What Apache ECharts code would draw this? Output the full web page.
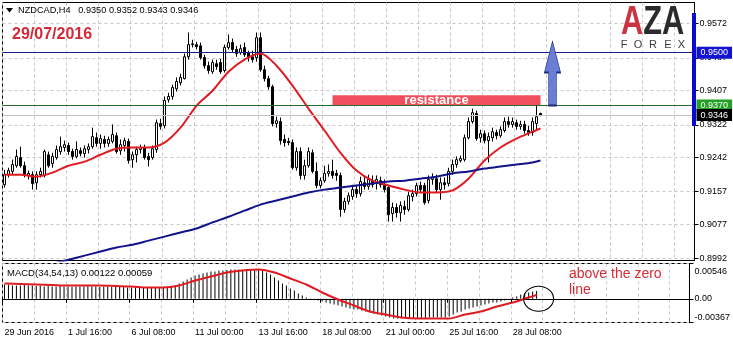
<!DOCTYPE html>
<html><head><meta charset="utf-8">
<script src="https://cdn.jsdelivr.net/npm/echarts@6/dist/echarts.min.js"></script>
<style>html,body{margin:0;padding:0;background:#fff}#c{width:733px;height:344px}</style>
</head><body><div id="c"></div>
<script>
const xTickLabels = ['29 Jun 2016','1 Jul 16:00','6 Jul 08:00','11 Jul 00:00','13 Jul 16:00','18 Jul 08:00','21 Jul 00:00','25 Jul 16:00','28 Jul 08:00'];
const priceTicks = [0.8992,0.9077,0.9157,0.9242,0.9322,0.9407,0.9487,0.9572];
const macdTicks = [-0.00367,0,0.00546];
// [open, close, low, high]
const candles = [
[0.9174,0.9199,0.9167,0.9211],[0.9199,0.9209,0.9192,0.9216],[0.9207,0.9224,0.9199,0.9236],[0.9221,0.9244,0.9216,0.9261],
[0.9241,0.9221,0.9216,0.9268],[0.9221,0.9197,0.9192,0.9231],[0.9197,0.9202,0.9187,0.9209],[0.9199,0.9177,0.9162,0.9207],
[0.9179,0.9199,0.9162,0.9207],[0.9199,0.9207,0.9192,0.9216],[0.9197,0.9256,0.9192,0.9261],[0.9248,0.9221,0.9216,0.9256],
[0.9226,0.9244,0.9216,0.9253],[0.9241,0.9261,0.9236,0.9271],[0.9256,0.9268,0.9248,0.9293],[0.9266,0.9273,0.9256,0.9283],
[0.9271,0.9256,0.9248,0.9278],[0.9256,0.9244,0.9236,0.9263],[0.9244,0.9261,0.9239,0.9281],[0.9258,0.9251,0.9244,0.9266],
[0.9251,0.9263,0.9241,0.9271],[0.9261,0.9268,0.9251,0.9276],[0.9268,0.9293,0.9263,0.9315],[0.9290,0.9276,0.9268,0.9303],
[0.9276,0.9288,0.9263,0.9298],[0.9286,0.9276,0.9266,0.9295],[0.9276,0.9286,0.9268,0.9293],[0.9281,0.9298,0.9276,0.9323],
[0.9295,0.9256,0.9251,0.9303],[0.9258,0.9273,0.9248,0.9286],[0.9271,0.9283,0.9256,0.9290],[0.9281,0.9234,0.9226,0.9288],
[0.9236,0.9248,0.9216,0.9256],[0.9248,0.9261,0.9229,0.9268],[0.9261,0.9266,0.9251,0.9273],[0.9266,0.9241,0.9236,0.9273],
[0.9244,0.9236,0.9219,0.9253],[0.9241,0.9263,0.9236,0.9271],[0.9261,0.9327,0.9253,0.9335],[0.9325,0.9318,0.9310,0.9337],
[0.9320,0.9382,0.9313,0.9392],[0.9384,0.9392,0.9377,0.9401],[0.9392,0.9414,0.9384,0.9421],[0.9411,0.9429,0.9404,0.9439],
[0.9426,0.9439,0.9419,0.9448],[0.9436,0.9490,0.9434,0.9498],[0.9490,0.9520,0.9483,0.9550],[0.9520,0.9522,0.9513,0.9532],
[0.9520,0.9515,0.9508,0.9527],[0.9517,0.9488,0.9483,0.9525],[0.9488,0.9468,0.9461,0.9495],[0.9468,0.9456,0.9448,0.9478],
[0.9453,0.9476,0.9448,0.9483],[0.9473,0.9466,0.9458,0.9483],[0.9476,0.9453,0.9448,0.9485],[0.9456,0.9513,0.9451,0.9520],
[0.9513,0.9525,0.9508,0.9545],[0.9525,0.9508,0.9500,0.9535],[0.9508,0.9498,0.9490,0.9517],[0.9500,0.9510,0.9495,0.9520],
[0.9513,0.9495,0.9490,0.9525],[0.9500,0.9488,0.9478,0.9505],[0.9490,0.9483,0.9476,0.9505],[0.9488,0.9537,0.9478,0.9550],
[0.9537,0.9458,0.9453,0.9550],[0.9458,0.9436,0.9429,0.9468],[0.9436,0.9416,0.9409,0.9443],[0.9416,0.9325,0.9318,0.9421],
[0.9325,0.9332,0.9315,0.9342],[0.9330,0.9283,0.9273,0.9340],[0.9286,0.9278,0.9268,0.9298],[0.9281,0.9278,0.9271,0.9290],
[0.9278,0.9216,0.9211,0.9286],[0.9216,0.9256,0.9209,0.9266],[0.9256,0.9197,0.9187,0.9266],[0.9197,0.9221,0.9187,0.9236],
[0.9221,0.9256,0.9216,0.9266],[0.9253,0.9207,0.9202,0.9261],[0.9207,0.9172,0.9165,0.9229],[0.9172,0.9184,0.9165,0.9192],
[0.9184,0.9202,0.9179,0.9221],[0.9202,0.9207,0.9194,0.9224],[0.9207,0.9197,0.9189,0.9236],[0.9202,0.9197,0.9184,0.9211],
[0.9197,0.9113,0.9095,0.9204],[0.9113,0.9133,0.9105,0.9142],[0.9133,0.9147,0.9125,0.9155],[0.9145,0.9162,0.9137,0.9174],
[0.9162,0.9152,0.9142,0.9172],[0.9152,0.9182,0.9145,0.9194],[0.9179,0.9170,0.9162,0.9197],[0.9170,0.9187,0.9162,0.9199],
[0.9184,0.9174,0.9167,0.9197],[0.9177,0.9187,0.9162,0.9197],[0.9184,0.9174,0.9167,0.9194],[0.9174,0.9162,0.9155,0.9187],
[0.9167,0.9100,0.9083,0.9174],[0.9103,0.9118,0.9083,0.9130],[0.9118,0.9105,0.9093,0.9128],[0.9105,0.9123,0.9083,0.9133],
[0.9120,0.9113,0.9100,0.9135],[0.9113,0.9147,0.9108,0.9157],[0.9145,0.9152,0.9133,0.9162],[0.9152,0.9172,0.9145,0.9179],
[0.9172,0.9162,0.9155,0.9182],[0.9172,0.9130,0.9125,0.9179],[0.9135,0.9187,0.9128,0.9197],[0.9187,0.9192,0.9174,0.9202],
[0.9189,0.9162,0.9155,0.9199],[0.9162,0.9179,0.9137,0.9192],[0.9179,0.9174,0.9162,0.9192],[0.9177,0.9207,0.9170,0.9216],
[0.9207,0.9224,0.9199,0.9236],[0.9224,0.9236,0.9216,0.9244],[0.9234,0.9239,0.9229,0.9246],[0.9236,0.9290,0.9231,0.9298],
[0.9290,0.9330,0.9286,0.9340],[0.9330,0.9352,0.9325,0.9362],[0.9350,0.9288,0.9283,0.9357],[0.9290,0.9300,0.9278,0.9310],
[0.9300,0.9283,0.9276,0.9308],[0.9283,0.9293,0.9229,0.9303],[0.9290,0.9305,0.9281,0.9315],[0.9303,0.9295,0.9286,0.9310],
[0.9295,0.9310,0.9290,0.9318],[0.9308,0.9330,0.9303,0.9340],[0.9330,0.9323,0.9315,0.9342],[0.9323,0.9330,0.9315,0.9340],
[0.9327,0.9318,0.9310,0.9335],[0.9318,0.9323,0.9310,0.9332],[0.9323,0.9308,0.9300,0.9332],[0.9308,0.9303,0.9295,0.9320],
[0.9303,0.9330,0.9295,0.9340],[0.9325,0.9342,0.9310,0.9369],[0.9350,0.9346,0.9343,0.9352]
];
// moving averages read at sampled bars: [barIndex, price]
const maFast = [[0,0.9199],[4,0.9199],[8,0.9194],[12,0.9204],[16,0.9221],[20,0.9231],[24,0.9248],[28,0.9263],[32,0.9266],[36,0.9266],[40,0.9278],[44,0.9315],[48,0.9369],[52,0.9406],[56,0.9453],[60,0.9483],[64,0.9498],[68,0.9468],[72,0.9419],[76,0.9362],[80,0.9308],[84,0.9253],[88,0.9209],[92,0.9184],[96,0.9172],[100,0.9162],[104,0.9155],[108,0.9155],[112,0.9160],[116,0.9189],[120,0.9234],[124,0.9266],[128,0.9288],[132,0.9305],[134,0.9313]];
const maSlow = [[12,0.8979],[16,0.8989],[20,0.8999],[24,0.9009],[28,0.9019],[32,0.9026],[36,0.9036],[40,0.9046],[44,0.9056],[48,0.9066],[52,0.9081],[56,0.9095],[60,0.9110],[64,0.9125],[68,0.9135],[72,0.9145],[76,0.9155],[80,0.9162],[84,0.9167],[88,0.9172],[92,0.9177],[96,0.9182],[100,0.9184],[104,0.9189],[108,0.9194],[112,0.9202],[116,0.9207],[120,0.9214],[124,0.9219],[128,0.9224],[132,0.9229],[134,0.9234]];
const macdHist = [
0.00221,0.00221,0.00206,0.00206,0.00206,0.00213,0.00206,0.00206,0.00198,0.00206,
0.0019,0.00198,0.0019,0.0019,0.00198,0.0019,0.0019,0.00183,0.0019,0.0019,
0.0019,0.00198,0.0019,0.0019,0.00183,0.0019,0.0019,0.00183,0.0019,0.00183,
0.00183,0.00175,0.00175,0.00175,0.00175,0.00168,0.00175,0.00175,0.00175,0.00175,
0.00175,0.00175,0.00183,0.00206,0.00237,0.00268,0.00299,0.00329,0.0036,0.00376,
0.00391,0.00407,0.00422,0.00422,0.00438,0.00438,0.00445,0.00453,0.00453,0.00453,
0.00453,0.00453,0.00453,0.00453,0.00445,0.00438,0.00407,0.00376,0.00329,0.00283,
0.00237,0.00206,0.00159,0.00128,0.00082,0.00051,0.0002,0.00005,-0.00011,-0.00026,
-0.00042,-0.00057,-0.00073,-0.00088,-0.00104,-0.00119,-0.00135,-0.0015,-0.00166,-0.00166,
-0.00181,-0.00197,-0.00212,-0.00227,-0.00243,-0.00258,-0.00274,-0.00289,-0.00305,-0.00305,
-0.00305,-0.00305,-0.00305,-0.00305,-0.00305,-0.00305,-0.00305,-0.00289,-0.00289,-0.00289,
-0.00289,-0.00289,-0.00274,-0.00243,-0.00212,-0.00197,-0.00166,-0.0015,-0.00135,-0.00119,
-0.00104,-0.00088,-0.00073,-0.00057,-0.00057,-0.00042,-0.00026,-0.00011,0.0002,0.00036,
0.00067,0.00082,0.00097,0.00113,0.00122
];
const macdSignal = [[0,0.00237],[4,0.00229],[8,0.00221],[12,0.00214],[16,0.00206],[20,0.00206],[24,0.00206],[28,0.00198],[32,0.0019],[36,0.00175],[40,0.00175],[44,0.00206],[48,0.00283],[52,0.00345],[56,0.00407],[60,0.00438],[64,0.00453],[68,0.00407],[72,0.00314],[76,0.00221],[80,0.00097],[84,-0.00011],[88,-0.00104],[92,-0.00197],[96,-0.00243],[100,-0.00289],[104,-0.00305],[108,-0.00305],[112,-0.00305],[116,-0.00243],[120,-0.00197],[124,-0.00119],[128,-0.00057],[132,0.0002],[134,0.00059]];
const priceLevels = [0.9500, 0.9370, 0.9346];
const resistanceZone = {from: 82, to: 134, low: 0.9370, high: 0.9395, name: 'resistance'};
const arrowAt = [137, 0.9449];
const circleAt = [134, 0];

const NBARS = 173;
const cats = Array.from({length: NBARS}, (_, i) => String(i));
const FONT = '"Liberation Sans", Arial, sans-serif';
const gridLine = {show: true, lineStyle: {color: '#c8c8c8', type: [3, 3], width: 1}};
const tickShow = (i) => i % 16 === 0 && i / 16 < xTickLabels.length;

const chart = echarts.init(document.getElementById('c'), null, {renderer: 'canvas'});
chart.setOption({
  animation: false,
  backgroundColor: '#fff',
  grid: [
    {left: 2.5, top: 2.5, width: 692, height: 258, show: true, borderColor: '#000', borderWidth: 1, backgroundColor: 'transparent'},
    {left: 2.5, top: 263.5, width: 692, height: 59, show: true, borderColor: '#000', borderWidth: 1, backgroundColor: 'transparent'}
  ],
  xAxis: [
    {type: 'category', gridIndex: 0, data: cats, boundaryGap: true,
     axisLine: {show: false}, axisTick: {show: false}, axisLabel: {show: false},
     splitLine: Object.assign({interval: 7}, gridLine)},
    {type: 'category', gridIndex: 1, data: cats, boundaryGap: true,
     axisLine: {show: true, lineStyle: {color: '#000'}},
     axisTick: {show: true, interval: tickShow, length: 4, lineStyle: {color: '#000'}},
     axisLabel: {show: true, interval: tickShow, align: 'left', margin: 6, color: '#000', fontSize: 9, fontFamily: FONT,
       formatter: (v, i) => xTickLabels[i / 16] || ''},
     splitLine: Object.assign({interval: 7}, gridLine)}
  ],
  yAxis: [
    {type: 'value', gridIndex: 0, position: 'right', min: 0.8987, max: 0.9624,
     axisLine: {show: true, lineStyle: {color: '#000'}},
     axisTick: {show: true, length: 4, customValues: priceTicks, lineStyle: {color: '#000'}},
     axisLabel: {customValues: priceTicks, margin: 5, color: '#000', fontSize: 9, fontFamily: FONT,
       formatter: v => v.toFixed(4)},
     splitLine: gridLine},
    {type: 'value', gridIndex: 1, position: 'right', min: macdTicks[0], max: macdTicks[2],
     axisLine: {show: true, lineStyle: {color: '#000'}},
     axisTick: {show: true, length: 4, customValues: macdTicks, lineStyle: {color: '#000'}},
     axisLabel: {customValues: macdTicks.slice(0, 2), margin: 5, color: '#000', fontSize: 9, fontFamily: FONT, lineHeight: 10,
       formatter: v => v < 0 ? v.toFixed(5) + '\n' : '0.00'},
     splitLine: gridLine},
    {type: 'value', gridIndex: 1, position: 'right', min: macdTicks[0], max: macdTicks[2],
     axisLine: {show: false}, axisTick: {show: false}, splitLine: {show: false},
     axisLabel: {customValues: [macdTicks[2]], margin: 5, color: '#000', fontSize: 9, fontFamily: FONT, lineHeight: 16,
       formatter: v => '\n' + v.toFixed(5)}}
  ],
  series: [
    {type: 'candlestick', xAxisIndex: 0, yAxisIndex: 0, data: candles, barWidth: 3,
     itemStyle: {color: '#fff', color0: '#000', borderColor: '#000', borderColor0: '#000', borderWidth: 1},
     markLine: {symbol: 'none', silent: true, animation: false, precision: 4,
       label: {show: true, position: 'end', distance: 2, color: '#fff', fontSize: 9, fontFamily: FONT,
         padding: [2, 4, 1, 4], formatter: p => Number(p.value).toFixed(4)},
       data: [
         {yAxis: priceLevels[0], lineStyle: {color: '#1c1c8c', width: 1, type: 'solid'}, label: {backgroundColor: '#1212d0'}},
         {yAxis: priceLevels[1], lineStyle: {color: '#2a6a2a', width: 1, type: 'solid'}, label: {backgroundColor: '#24a024'}},
         {yAxis: priceLevels[2], lineStyle: {color: '#c4c4c4', width: 1, type: 'solid'}, label: {backgroundColor: '#000'}}
       ]},
     markArea: {silent: true, itemStyle: {color: '#f04f5d'},
       label: {show: true, position: 'inside', color: '#fff', fontSize: 13, fontWeight: 'bold', fontFamily: FONT},
       data: [[{name: resistanceZone.name, xAxis: resistanceZone.from, yAxis: resistanceZone.low},
               {xAxis: resistanceZone.to, yAxis: resistanceZone.high}]]},
     markPoint: {silent: true, symbol: 'path://M8,0 L16,31 L12,31 L12,64 L4,64 L4,31 L0,31 Z',
       symbolSize: [16, 64], symbolKeepAspect: false, label: {show: false},
       itemStyle: {color: '#6b7ed6', borderColor: '#1e2878', borderWidth: 1},
       data: [{coord: arrowAt}]}
    },
    {type: 'line', xAxisIndex: 0, yAxisIndex: 0, data: maFast, showSymbol: false, smooth: 0.3,
     lineStyle: {color: '#e01b22', width: 2}, z: 3},
    {type: 'line', xAxisIndex: 0, yAxisIndex: 0, data: maSlow, showSymbol: false, smooth: 0.3,
     lineStyle: {color: '#12128c', width: 2}, z: 3},
    {type: 'bar', xAxisIndex: 1, yAxisIndex: 1, data: macdHist, barWidth: 1, itemStyle: {color: '#000'}},
    {type: 'line', xAxisIndex: 1, yAxisIndex: 1, data: macdSignal, showSymbol: false, smooth: 0.3,
     lineStyle: {color: '#e01b22', width: 2}, z: 3,
     markPoint: {silent: true, symbol: 'path://M0,12 A15,12 0 1 1 30,12 A15,12 0 1 1 0,12 Z',
       symbolSize: [30, 25], symbolKeepAspect: false, symbolOffset: [2, 0], label: {show: false},
       itemStyle: {color: 'transparent', borderColor: '#000', borderWidth: 1},
       data: [{coord: circleAt}]}}
  ],
  graphic: [
    {type: 'polygon', shape: {points: [[6, 8], [13, 8], [9.5, 12.5]]}, style: {fill: '#000'}, z: 10},
    {type: 'text', x: 18, y: 10, z: 10, style: {text: 'NZDCAD,H4   0.9350 0.9352 0.9343 0.9346', fill: '#000',
      font: '9.2px ' + FONT, verticalAlign: 'middle'}},
    {type: 'text', x: 12, y: 35, z: 10, style: {text: '29/07/2016', fill: '#d42a38',
      font: 'bold 16px ' + FONT, verticalAlign: 'middle'}},
    {type: 'text', x: 7, y: 273, z: 10, style: {text: 'MACD(34,54,13) 0.00122 0.00059', fill: '#000',
      font: '9.5px ' + FONT, verticalAlign: 'middle'}},
    {type: 'text', x: 569, y: 282, z: 10, style: {text: 'above the zero\nline', fill: '#d92b36',
      font: '14px ' + FONT, lineHeight: 16, verticalAlign: 'middle'}},
    {type: 'rect', shape: {x: 692, y: 13, width: 4, height: 113}, style: {fill: '#0a0ad0'}, z: 20},
    {type: 'text', x: 621, y: 23, scaleX: 0.77, z: 10, style: {text: '{r|A}{d|ZA}', verticalAlign: 'middle',
      rich: {r: {fill: '#cc3340', font: 'bold 40px ' + FONT}, d: {fill: '#2b2b2b', font: 'bold 40px ' + FONT}}}},
    ...'FOREX'.split('').map((ch, k) => ({type: 'text', x: [624, 638, 653, 668, 681.5][k], y: 45, z: 10,
      style: {text: ch, fill: '#3a3a3a', font: '11px ' + FONT, align: 'center', verticalAlign: 'middle'}}))
  ]
});
</script></body></html>
